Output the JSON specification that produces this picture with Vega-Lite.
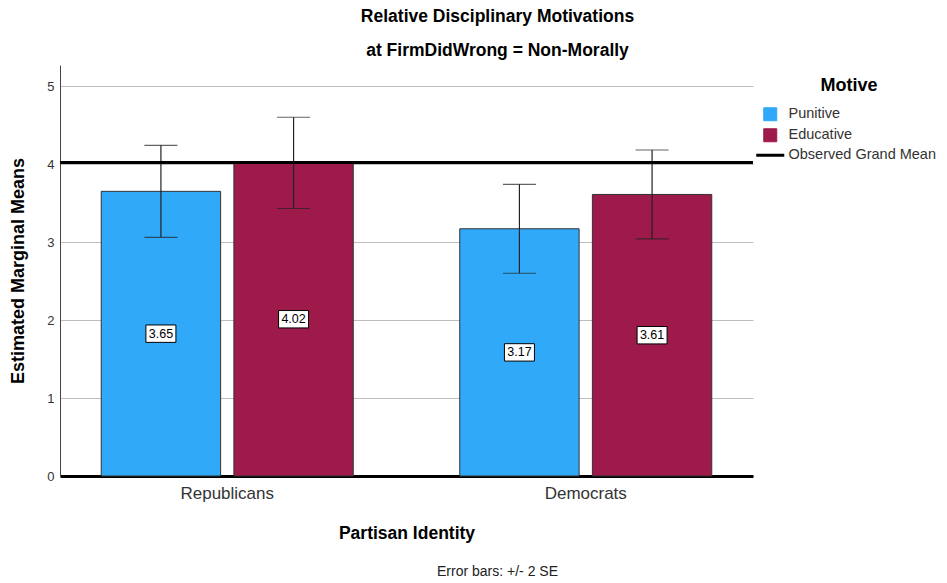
{
  "$schema": "https://vega.github.io/schema/vega-lite/v6.json",
  "autosize": "none",
  "width": 693,
  "height": 411,
  "padding": {"left": 60, "top": 65, "right": 194, "bottom": 107},
  "background": "white",
  "config": {
    "font": "Liberation Sans",
    "view": {"stroke": null},
    "axis": {"labelFont": "Liberation Sans", "titleFont": "Liberation Sans"},
    "legend": {"labelFont": "Liberation Sans", "titleFont": "Liberation Sans"},
    "title": {"font": "Liberation Sans"}
  },
  "title": {
    "text": ["Relative Disciplinary Motivations", "at FirmDidWrong = Non-Morally"],
    "fontSize": 17.5,
    "fontWeight": "bold",
    "color": "#000000",
    "lineHeight": 34,
    "anchor": "middle",
    "dx": 91,
    "offset": 6
  },
  "datasets": {
    "means": [
      {"party": "Republicans", "motive": "Punitive", "mean": 3.65, "lo": 3.06, "hi": 4.24, "label": "3.65"},
      {"party": "Republicans", "motive": "Educative", "mean": 4.02, "lo": 3.43, "hi": 4.60, "label": "4.02"},
      {"party": "Democrats", "motive": "Punitive", "mean": 3.17, "lo": 2.60, "hi": 3.74, "label": "3.17"},
      {"party": "Democrats", "motive": "Educative", "mean": 3.61, "lo": 3.04, "hi": 4.18, "label": "3.61"}
    ],
    "grand": [{"series": "Observed Grand Mean", "value": 4.02}]
  },
  "resolve": {"scale": {"y": "independent", "x": "independent", "xOffset": "independent"}},
  "layer": [
    {
      "layer": [
        {
          "data": {"name": "means"},
          "mark": {"type": "bar", "stroke": "#333333", "strokeWidth": 1},
          "encoding": {
            "x": {
              "field": "party", "type": "nominal",
              "sort": ["Republicans", "Democrats"],
              "scale": {"type": "band", "paddingInner": 0.297, "paddingOuter": 0.115},
              "axis": {
                "orient": "bottom",
                "title": "Partisan Identity",
                "titleFontSize": 17.5, "titleFontWeight": "bold", "titleColor": "#000000",
                "titlePadding": 23,
                "labelAngle": 0, "labelFontSize": 17, "labelColor": "#333333", "labelPadding": 9,
                "ticks": false,
                "domainColor": "#000000", "domainWidth": 3
              }
            },
            "xOffset": {
              "field": "motive", "type": "nominal",
              "sort": ["Punitive", "Educative"],
              "scale": {"type": "band", "paddingInner": 0.1, "paddingOuter": 0}
            },
            "y": {
              "field": "mean", "type": "quantitative",
              "scale": {"domain": [0, 5.27], "nice": false},
              "axis": {
                "title": "Estimated Marginal Means",
                "titleFontSize": 18, "titleFontWeight": "bold", "titleColor": "#000000",
                "titlePadding": 19,
                "values": [0, 1, 2, 3, 4, 5],
                "format": "d",
                "labelFontSize": 13, "labelColor": "#333333", "labelPadding": 6,
                "ticks": false,
                "grid": true, "gridColor": "#bdbdbd", "gridWidth": 1,
                "domainColor": "#444444", "domainWidth": 1
              }
            },
            "color": {
              "field": "motive", "type": "nominal",
              "scale": {
                "domain": ["Punitive", "Educative", "Observed Grand Mean"],
                "range": ["#30A9F8", "#9D1A4B", "#000000"]
              },
              "legend": {
                "title": "Motive",
                "orient": "none",
                "legendX": 703,
                "legendY": 12,
                "titleFontSize": 18,
                "titleFontWeight": "bold",
                "titleColor": "#000000",
                "titleAnchor": "middle",
                "titlePadding": 12,
                "labelFontSize": 14.5,
                "labelColor": "#333333",
                "labelOffset": 11,
                "rowPadding": 3,
                "symbolType": "square",
                "symbolSize": 169,
                "symbolStrokeColor": "#333333",
                "symbolStrokeWidth": 1,
                "symbolOpacity": 1,
                "encode": {
                  "symbols": {
                    "update": {
                      "shape": {"signal": "datum.value === 'Observed Grand Mean' ? 'M-1,0H1' : 'square'"},
                      "size": {"signal": "datum.value === 'Observed Grand Mean' ? 784 : 169"},
                      "strokeWidth": {"signal": "datum.value === 'Observed Grand Mean' ? 3 : 1"},
                      "stroke": {"signal": "datum.value === 'Observed Grand Mean' ? '#000000' : '#333333'"}
                    }
                  }
                }
              }
            }
          }
        },
        {
          "data": {"name": "means"},
          "mark": {"type": "rule", "color": "#222222", "strokeWidth": 1.2},
          "encoding": {
            "x": {"field": "party", "type": "nominal", "sort": ["Republicans", "Democrats"]},
            "xOffset": {"field": "motive", "type": "nominal", "sort": ["Punitive", "Educative"]},
            "y": {"field": "lo", "type": "quantitative"},
            "y2": {"field": "hi"}
          }
        },
        {
          "data": {"name": "means"},
          "mark": {"type": "tick", "color": "#222222", "thickness": 1.2, "size": 33, "orient": "horizontal"},
          "encoding": {
            "x": {"field": "party", "type": "nominal", "sort": ["Republicans", "Democrats"]},
            "xOffset": {"field": "motive", "type": "nominal", "sort": ["Punitive", "Educative"]},
            "y": {"field": "lo", "type": "quantitative"}
          }
        },
        {
          "data": {"name": "means"},
          "mark": {"type": "tick", "color": "#222222", "thickness": 1.2, "size": 33, "orient": "horizontal"},
          "encoding": {
            "x": {"field": "party", "type": "nominal", "sort": ["Republicans", "Democrats"]},
            "xOffset": {"field": "motive", "type": "nominal", "sort": ["Punitive", "Educative"]},
            "y": {"field": "hi", "type": "quantitative"}
          }
        },
        {
          "data": {"name": "grand"},
          "mark": {"type": "rule", "strokeWidth": 3},
          "encoding": {
            "y": {"field": "value", "type": "quantitative"},
            "color": {"field": "series", "type": "nominal"}
          }
        }
      ]
    },
    {
      "data": {"name": "means"},
      "encoding": {
        "x": {
          "field": "party", "type": "nominal",
          "sort": ["Republicans", "Democrats"],
          "scale": {"type": "band", "paddingInner": 0.297, "paddingOuter": 0.115},
          "axis": {
            "orient": "bottom",
            "title": "Error bars: +/- 2 SE",
            "titleFontSize": 14, "titleFontWeight": "normal", "titleColor": "#222222",
            "titleX": 437,
            "titlePadding": 88,
            "labels": false, "ticks": false, "domain": false, "grid": false
          }
        },
        "xOffset": {
          "field": "motive", "type": "nominal",
          "sort": ["Punitive", "Educative"],
          "scale": {"type": "band", "paddingInner": 0.1, "paddingOuter": 0}
        },
        "y": {
          "field": "mean", "type": "quantitative",
          "scale": {"domain": [0, 10.54], "nice": false},
          "axis": null
        }
      },
      "layer": [
        {
          "mark": {
            "type": "point",
            "shape": "M-1,-0.58H1V0.58H-1Z",
            "size": 900,
            "filled": true,
            "fill": "white",
            "stroke": "#000000",
            "strokeWidth": 1,
            "opacity": 1
          }
        },
        {
          "mark": {"type": "text", "fontSize": 12.5, "color": "#000000", "baseline": "middle", "align": "center"},
          "encoding": {"text": {"field": "label", "type": "nominal"}}
        }
      ]
    }
  ]
}
